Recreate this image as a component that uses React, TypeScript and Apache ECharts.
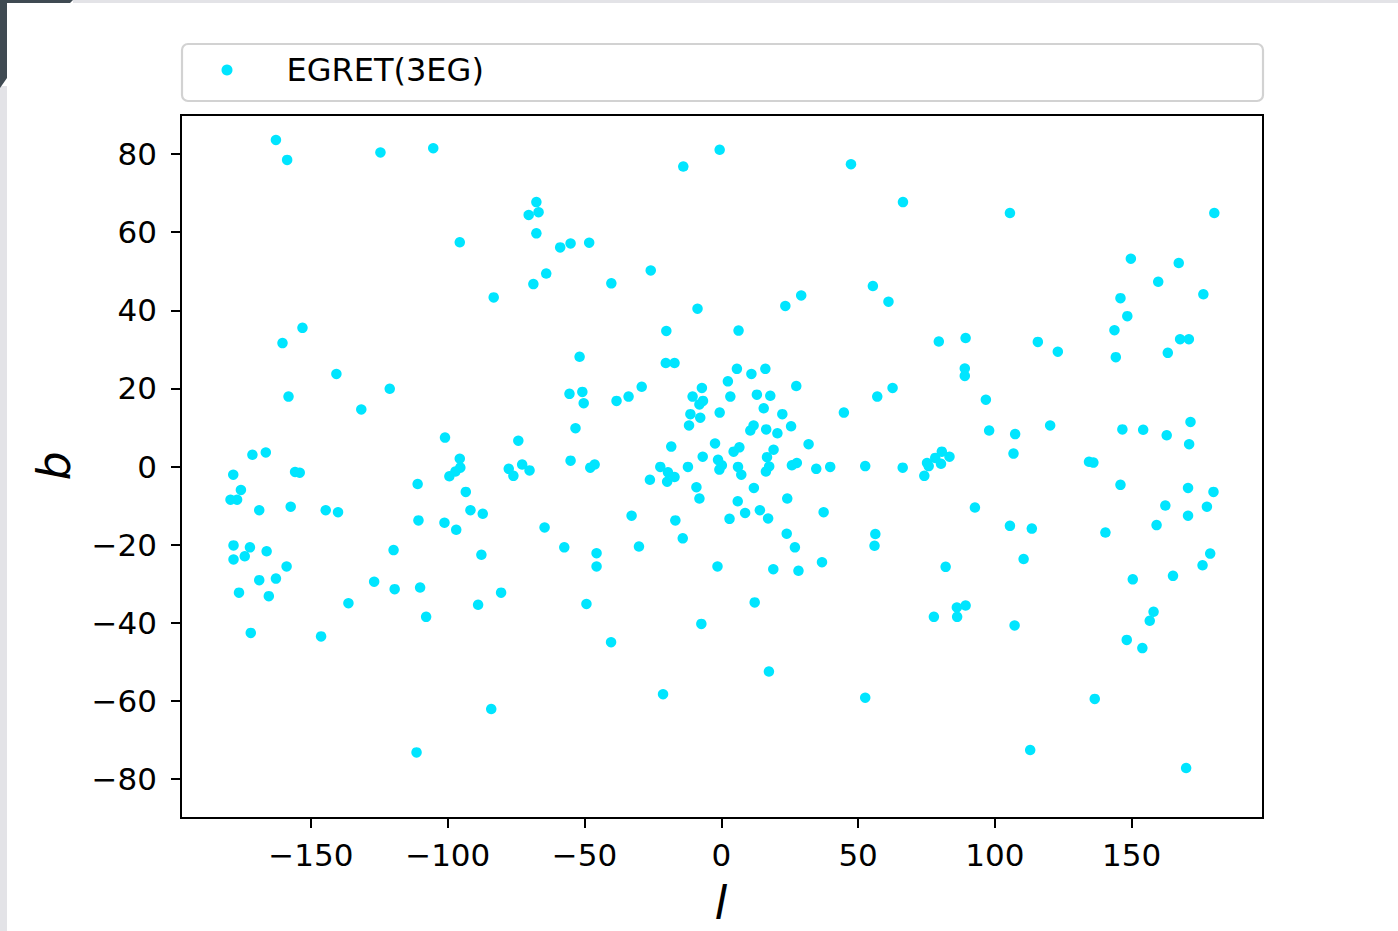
import React, { useEffect, useRef } from "react";
import * as echarts from "echarts";

// EGRET (3EG) sources, galactic coordinates [l, b] in degrees, grouped by sky region
const northWest: [number, number][] = [
  [-162.8, 83.6], [-158.7, 78.5], [-124.6, 80.4], [-105.3, 81.5], [-67.6, 67.7], [-70.4, 64.4],
  [-66.8, 65.1], [-67.6, 59.7], [-95.6, 57.4], [-64.0, 49.4], [-68.7, 46.7], [-83.2, 43.3],
  [-153.1, 35.5], [-160.4, 31.6], [-140.7, 23.7], [-121.2, 19.9], [-158.2, 17.9], [-131.6, 14.6],
  [-101.0, 7.4], [-74.2, 6.6], [-171.4, 3.0], [-166.5, 3.6], [-95.6, 2.0],
];
const northCentre: [number, number][] = [
  [-0.6, 81.1], [-13.9, 76.8], [47.4, 77.4], [66.4, 67.7], [-58.9, 56.1], [-55.1, 57.1],
  [-48.3, 57.3], [-40.2, 46.9], [-25.8, 50.2], [-8.7, 40.4], [23.4, 41.1], [29.2, 43.8],
  [55.4, 46.2], [61.1, 42.2], [-20.1, 34.7], [6.3, 34.8], [-51.8, 28.1], [-20.3, 26.5],
  [-17.1, 26.5], [5.7, 25.0], [11.0, 23.7], [16.1, 25.0], [-29.1, 20.4], [-33.9, 17.9],
  [-38.3, 16.8], [-55.5, 18.6], [-50.8, 19.1], [-50.3, 16.2], [-7.1, 20.1], [2.4, 21.8],
  [-10.5, 17.9], [-6.7, 16.8], [-8.0, 15.9], [3.3, 17.9], [13.0, 18.4], [17.9, 18.1],
  [27.4, 20.6], [57.0, 17.9], [62.6, 20.1], [15.5, 14.9], [22.3, 13.4], [44.8, 13.8],
  [-11.3, 13.4], [-7.7, 12.5], [-0.6, 13.8], [-11.8, 10.5], [-53.3, 9.8], [11.8, 10.5],
  [10.6, 9.2], [16.4, 9.5], [20.5, 8.5], [25.5, 10.3], [-18.3, 5.1], [-2.3, 5.9],
  [31.9, 5.7], [4.5, 3.8], [6.6, 4.9], [19.1, 4.3], [-6.8, 2.5], [-55.1, 1.5], [16.7, 2.4],
];
const planeCentre: [number, number][] = [
  [-47.9, -0.3], [-46.3, 0.5], [-22.3, -0.1], [-19.5, -1.5], [-19.8, -3.9], [-17.1, -2.7],
  [-26.1, -3.4], [-12.2, -0.1], [-9.1, -5.3], [-8.0, -8.2], [-1.2, 1.7], [0.2, 0.3],
  [-0.7, -0.8], [6.1, -0.1], [7.3, -2.1], [6.0, -8.9], [11.9, -5.5], [17.5, 0.0],
  [16.3, -1.3], [24.1, -8.2], [25.8, 0.3], [27.6, 0.9], [34.7, -0.6], [39.8, -0.1],
  [52.6, 0.1], [66.3, -0.3],
];
const planeEast: [number, number][] = [
  [97.9, 9.2], [107.4, 8.3], [120.2, 10.5], [146.6, 9.5], [154.2, 9.4], [162.8, 8.0],
  [171.5, 11.4], [171.0, 5.7], [106.8, 3.3], [74.2, -2.4], [75.2, 0.9], [75.8, 0.1],
  [78.2, 2.2], [80.6, 3.8], [83.4, 2.5], [80.3, 0.7], [134.4, 1.2], [136.0, 1.0],
  [145.9, -4.7], [170.6, -5.5], [179.9, -6.5],
];
const northEast: [number, number][] = [
  [105.5, 64.9], [180.2, 64.9], [149.7, 53.2], [167.2, 52.1], [159.7, 47.3], [176.2, 44.1],
  [145.9, 43.1], [148.4, 38.5], [143.7, 34.9], [144.2, 28.0], [79.5, 32.0], [89.3, 32.9],
  [115.7, 31.9], [123.0, 29.4], [163.2, 29.1], [167.7, 32.6], [170.9, 32.6], [89.0, 25.1],
  [89.0, 23.2], [96.7, 17.1],
];
const southWest: [number, number][] = [
  [-178.4, -2.1], [-155.8, -1.4], [-154.1, -1.6], [-175.6, -6.0], [-179.4, -8.5], [-177.0, -8.5],
  [-168.9, -11.2], [-157.4, -10.3], [-144.6, -11.2], [-140.1, -11.7], [-111.0, -4.5], [-99.4, -2.5],
  [-97.2, -1.3], [-95.4, -0.3], [-93.4, -6.5], [-91.7, -11.2], [-87.2, -12.1], [-110.7, -13.8],
  [-101.2, -14.4], [-96.9, -16.2], [-77.7, -0.6], [-76.0, -2.4], [-72.8, 0.5], [-70.1, -1.0],
  [-64.6, -15.6], [-178.3, -20.2], [-172.3, -20.7], [-174.2, -23.0], [-178.3, -23.8], [-166.2, -21.7],
  [-158.9, -25.6], [-168.9, -29.1], [-162.8, -28.7], [-176.3, -32.3], [-165.4, -33.2], [-172.0, -42.6],
  [-146.3, -43.5], [-136.3, -35.0], [-126.9, -29.5], [-119.8, -21.4], [-119.4, -31.4], [-110.1, -31.0],
  [-107.9, -38.5], [-87.7, -22.6], [-88.9, -35.4], [-80.5, -32.3], [-84.1, -62.1], [-111.4, -73.2],
];
const southCentre: [number, number][] = [
  [-57.4, -20.7], [-45.6, -22.2], [-45.6, -25.6], [-49.3, -35.2], [-40.3, -45.0], [-32.8, -12.6],
  [-30.1, -20.5], [-16.8, -13.8], [-14.1, -18.4], [-1.4, -25.6], [-7.3, -40.3], [-21.3, -58.3],
  [3.0, -13.4], [8.7, -11.9], [14.1, -11.2], [17.1, -13.3], [37.4, -11.7], [23.9, -17.2],
  [26.9, -20.7], [19.0, -26.3], [28.2, -26.7], [36.8, -24.5], [56.3, -17.3], [56.0, -20.3],
  [12.2, -34.8], [17.4, -52.5], [52.6, -59.2],
];
const southEast: [number, number][] = [
  [92.7, -10.5], [162.3, -10.0], [177.5, -10.3], [170.6, -12.6], [105.5, -15.2], [113.5, -15.9],
  [159.1, -15.0], [140.4, -16.9], [178.7, -22.3], [175.9, -25.3], [82.0, -25.7], [110.5, -23.7],
  [150.4, -28.9], [165.1, -28.0], [77.7, -38.5], [86.1, -36.1], [89.3, -35.6], [86.2, -38.5],
  [107.2, -40.7], [158.0, -37.2], [156.6, -39.5], [148.2, -44.4], [153.9, -46.5], [136.5, -59.5],
  [112.9, -72.6], [169.9, -77.2],
];

const xTicks = [-150, -100, -50, 0, 50, 100, 150];
const yTicks = [-80, -60, -40, -20, 0, 20, 40, 60, 80];
const seriesName = "EGRET(3EG)";

const FONT = "DejaVu Sans";
const fmt = (v: number) => (v < 0 ? "\u2212" + Math.abs(v) : String(v));

export default function App() {
  const ref = useRef<HTMLDivElement>(null);

  useEffect(() => {
    if (!ref.current) return;
    const chart = echarts.init(ref.current, null, { renderer: "svg" });
    const data = [
      ...northWest, ...northCentre, ...planeCentre, ...planeEast,
      ...northEast, ...southWest, ...southCentre, ...southEast,
    ];
    chart.setOption({
      animation: false,
      backgroundColor: "#ffffff",
      textStyle: { fontFamily: FONT },
      grid: {
        left: 181, top: 115, width: 1082, height: 703,
        show: true, borderColor: "#000", borderWidth: 2, backgroundColor: "#fff",
        containLabel: false, z: 1,
      },
      legend: {
        show: true,
        data: [seriesName],
        left: 221.5, top: 54, padding: 0,
        icon: "circle", itemWidth: 11, itemHeight: 11,
        textStyle: { fontFamily: FONT, fontSize: 32, color: "#000", padding: [0, 0, 0, 49] },
        z: 5,
      },
      xAxis: {
        type: "value", min: -197.5, max: 198, z: 4,
        splitLine: { show: false },
        axisLine: { show: true, onZero: false, lineStyle: { color: "#000", width: 2 } },
        axisTick: { show: true, inside: false, length: 10, lineStyle: { color: "#000", width: 2 }, customValues: xTicks },
        axisLabel: {
          show: true, margin: 21, color: "#000", fontSize: 31, fontFamily: FONT,
          customValues: xTicks, formatter: (v: number) => fmt(v),
        },
      },
      yAxis: {
        type: "value", min: -90, max: 90, z: 4,
        splitLine: { show: false },
        axisLine: { show: true, onZero: false, lineStyle: { color: "#000", width: 2 } },
        axisTick: { show: true, inside: false, length: 10, lineStyle: { color: "#000", width: 2 }, customValues: yTicks },
        axisLabel: {
          show: true, margin: 24, color: "#000", fontSize: 31, fontFamily: FONT,
          customValues: yTicks, formatter: (v: number) => fmt(v),
        },
      },
      graphic: [
        { type: "rect", shape: { x: 73, y: 0, width: 1325, height: 3 }, style: { fill: "#e3e3e7" }, z: 0 },
        { type: "rect", shape: { x: 0, y: 86, width: 7, height: 845 }, style: { fill: "#e3e3e7" }, z: 0 },
        {
          type: "polygon",
          shape: { points: [[0, 0], [73, 0], [70, 3], [7, 3], [7, 78], [0, 88]] },
          style: { fill: "#3f4a52" }, z: 0,
        },
        {
          type: "rect",
          shape: { x: 182, y: 44, width: 1081, height: 57, r: 6 },
          style: { fill: "#ffffff", stroke: "#d2d2d2", lineWidth: 2.2 },
          z: 0,
        },
        {
          type: "text", x: 721, y: 903,
          style: {
            text: "l", font: `italic 46px '${FONT}'`, fill: "#000",
            textAlign: "center", textVerticalAlign: "middle",
          },
        },
        {
          type: "text", x: 54, y: 466, rotation: Math.PI / 2,
          style: {
            text: "b", font: `italic 46px '${FONT}'`, fill: "#000",
            textAlign: "center", textVerticalAlign: "middle",
          },
        },
      ],
      series: [
        {
          name: seriesName,
          type: "scatter",
          data,
          symbol: "circle",
          symbolSize: 10.5,
          itemStyle: { color: "#00e5ff", opacity: 1 },
          z: 3,
        },
      ],
    });
    return () => chart.dispose();
  }, []);

  return (
    <div
      ref={ref}
      style={{ position: "fixed", left: 0, top: 0, width: 1398, height: 931, background: "#fff" }}
    />
  );
}
